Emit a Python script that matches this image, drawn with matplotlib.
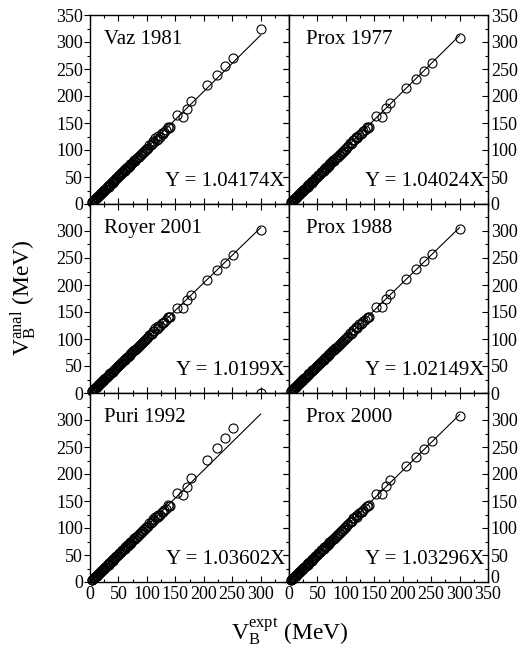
import numpy as np
import matplotlib
matplotlib.use('Agg')
import matplotlib.pyplot as plt
from matplotlib.ticker import MultipleLocator

plt.rcParams['font.family'] = 'Liberation Serif'
plt.rcParams['mathtext.fontset'] = 'custom'
plt.rcParams['mathtext.rm'] = 'Liberation Serif'
plt.rcParams['mathtext.it'] = 'Liberation Serif:italic'

# experimental barrier heights (MeV)
v_expt = [3.5, 5.0, 6.2, 7.5, 8.8, 10.1, 11.5, 13.0, 14.6, 16.0, 17.8, 19.5, 21.2, 23.0,
          25.1, 27.0, 29.3, 31.5, 33.8, 36.0, 38.4, 40.9, 43.5, 46.0, 48.6, 51.2, 54.0,
          56.8, 59.5, 62.3, 65.1, 68.0, 71.0, 74.2, 77.5, 80.6, 84.0, 87.5, 91.0, 94.5,
          98.0, 101.5, 104.0, 107.0, 110.0, 112.5, 115.0, 117.5, 120.0, 123.0, 126.0,
          129.5, 133.0, 137.0, 141.0, 153.0, 164.0, 171.0, 178.0, 206.0, 224.0, 237.0,
          251.0, 300.0,
          4.2, 9.5, 12.2, 15.3, 18.6, 22.1, 24.0, 28.1, 32.6, 35.0, 39.6, 42.2, 44.8, 47.3,
          50.0, 52.6, 55.4, 58.1, 61.0, 63.7, 66.5, 69.5, 72.6, 75.8, 79.0, 82.3, 85.8,
          89.2, 92.8, 96.2, 99.8, 108.5, 118.8, 127.8, 139.0]

vaz1981 = [3.8, 5.1, 6.6, 7.7, 9.3, 10.4, 12.1, 13.4, 15.3, 16.5, 18.7, 20.1, 22.3, 23.7,
           26.4, 27.9, 30.8, 32.6, 35.5, 37.2, 40.3, 42.3, 45.7, 47.6, 51.0, 53.0, 56.6,
           58.7, 62.4, 64.4, 68.2, 70.3, 74.3, 76.8, 81.0, 83.4, 87.9, 90.5, 95.1, 97.6,
           102.5, 104.2, 109.8, 109.5, 116.8, 114.0, 121.5, 119.0, 126.0, 124.5, 131.2,
           132.8, 136.5, 143.5, 142.5, 164, 162, 176, 191, 220, 238, 255, 271, 324,
           4.1, 9.2, 11.6, 15.0, 17.9, 21.8, 23.2, 28.0, 32.0, 35.2, 39.3, 42.6, 44.5, 47.9,
           50.0, 53.3, 55.6, 59.1, 61.4, 64.9, 67.0, 71.0, 73.4, 77.5, 80.1, 84.3, 87.2,
           91.5, 94.5, 98.8, 101.8, 111.5, 121.0, 130.5, 141.0]

prox1977 = [3.6, 5.3, 6.4, 7.9, 9.1, 10.6, 11.9, 13.6, 15.1, 16.7, 18.5, 20.3, 22.0, 24.0,
            26.1, 28.1, 30.5, 32.8, 35.1, 37.5, 39.9, 42.6, 45.2, 47.9, 50.5, 53.3, 56.1,
            59.1, 61.8, 64.9, 67.7, 70.8, 73.8, 77.2, 80.6, 83.8, 87.4, 91.0, 94.6, 98.3,
            101.8, 105.6, 107.0, 112.5, 113.8, 118.5, 118.9, 123.8, 124.0, 128.5, 130.0,
            134.8, 137.5, 141.8, 142.0, 163, 161, 177, 187, 215, 232, 246, 262, 308,
            4.2, 9.4, 11.8, 15.1, 18.1, 21.9, 23.5, 28.3, 32.2, 35.3, 39.5, 42.7, 44.8, 48.0,
            50.3, 53.4, 55.9, 59.2, 61.7, 65.0, 67.3, 71.1, 73.7, 77.6, 80.4, 84.4, 87.5,
            91.6, 94.8, 98.9, 102.2, 111.0, 121.8, 130.8, 140.5]

royer2001 = [3.6, 5.0, 6.4, 7.6, 9.0, 10.3, 11.8, 13.2, 15.0, 16.3, 18.2, 19.9, 21.7, 23.4,
             25.7, 27.5, 30.0, 32.1, 34.6, 36.7, 39.3, 41.6, 44.5, 46.8, 49.8, 52.1, 55.3,
             57.8, 60.9, 63.4, 66.6, 69.2, 72.7, 75.5, 79.3, 82.0, 86.0, 89.0, 93.1, 96.2,
             100.3, 103.2, 107.5, 108.6, 114.0, 114.2, 119.5, 119.3, 124.6, 125.0, 129.0,
             131.5, 134.5, 141.0, 140.5, 158, 157, 172, 181, 210, 227, 241, 256, 302,
             4.0, 9.3, 11.9, 15.2, 18.3, 22.1, 23.8, 28.3, 32.6, 35.4, 39.8, 42.8, 45.0, 48.0,
             50.4, 53.4, 55.9, 59.0, 61.6, 64.7, 67.2, 70.6, 73.4, 77.0, 79.9, 83.6, 86.8,
             90.6, 93.9, 97.8, 101.0, 109.5, 120.0, 129.0, 140.0]

prox1988 = [3.5, 5.2, 6.3, 7.7, 9.0, 10.4, 11.7, 13.4, 14.9, 16.4, 18.1, 20.0, 21.6, 23.6,
            25.6, 27.7, 29.9, 32.3, 34.5, 36.9, 39.2, 41.9, 44.4, 47.1, 49.6, 52.4, 55.1,
            58.1, 60.7, 63.8, 66.4, 69.6, 72.5, 75.9, 79.1, 82.5, 85.7, 89.5, 92.9, 96.7,
            100.0, 103.9, 105.5, 110.5, 111.8, 116.5, 116.9, 121.6, 121.9, 127.0, 127.8,
            132.8, 135.0, 139.5, 141.0, 160, 160, 175, 183, 212, 229, 244, 258, 303,
            4.1, 9.4, 12.0, 15.3, 18.4, 22.2, 23.9, 28.4, 32.7, 35.5, 39.9, 42.9, 45.1, 48.1,
            50.5, 53.5, 56.0, 59.1, 61.7, 64.8, 67.3, 70.7, 73.5, 77.1, 80.0, 83.7, 86.9,
            90.7, 94.0, 97.9, 101.1, 109.8, 120.3, 129.4, 140.5]

puri1992 = [3.7, 5.1, 6.5, 7.7, 9.2, 10.4, 12.0, 13.4, 15.2, 16.5, 18.6, 20.1, 22.1, 23.7,
            26.2, 27.9, 30.6, 32.5, 35.3, 37.1, 40.1, 42.2, 45.4, 47.5, 50.7, 52.8, 56.3,
            58.6, 62.0, 64.3, 67.8, 70.2, 73.9, 76.6, 80.6, 83.2, 87.4, 90.3, 94.6, 97.5,
            101.9, 104.5, 109.0, 109.3, 116.0, 114.2, 120.5, 119.5, 125.0, 124.8, 130.2,
            132.5, 136.0, 142.5, 141.0, 164, 161, 176, 193, 226, 248, 266, 286, np.nan,
            4.1, 9.2, 11.7, 15.0, 17.9, 21.8, 23.2, 28.0, 32.0, 35.1, 39.3, 42.5, 44.4, 47.8,
            49.9, 53.1, 55.5, 58.9, 61.2, 64.6, 66.8, 70.7, 73.1, 77.1, 79.7, 83.8, 86.8,
            91.0, 94.0, 98.3, 101.3, 110.9, 120.5, 130.0, 140.5]

prox2000 = [3.6, 5.2, 6.4, 7.8, 9.1, 10.5, 11.9, 13.5, 15.1, 16.6, 18.4, 20.2, 21.9, 23.8,
            25.9, 27.9, 30.3, 32.6, 34.9, 37.2, 39.7, 42.3, 44.9, 47.6, 50.2, 52.9, 55.8,
            58.7, 61.5, 64.4, 67.2, 70.3, 73.3, 76.7, 80.0, 83.3, 86.8, 90.4, 94.0, 97.6,
            101.2, 104.9, 106.5, 111.8, 113.0, 117.8, 118.2, 123.0, 123.5, 128.0, 129.3,
            134.0, 137.0, 141.5, 142.5, 163, 163, 178, 188, 215, 232, 247, 261, 307,
            4.2, 9.4, 11.8, 15.1, 18.1, 21.9, 23.4, 28.2, 32.1, 35.2, 39.4, 42.6, 44.6, 47.9,
            50.1, 53.2, 55.7, 59.0, 61.5, 64.8, 67.0, 70.9, 73.4, 77.4, 80.1, 84.1, 87.1,
            91.3, 94.4, 98.6, 101.7, 110.8, 121.0, 130.2, 141.0]

models = [vaz1981, prox1977, royer2001, prox1988, puri1992, prox2000]
names = ['Vaz 1981', 'Prox 1977', 'Royer 2001', 'Prox 1988', 'Puri 1992', 'Prox 2000']
slopes = [1.04174, 1.04024, 1.0199, 1.02149, 1.03602, 1.03296]
slope_txt = ['1.04174', '1.04024', '1.0199', '1.02149', '1.03602', '1.03296']

# Royer 2001 has one reaction with no value (drawn at zero)
royer_zero_x = [300.0]
royer_zero_y = [0.0]

fig = plt.figure(figsize=(5.2, 6.55), dpi=100)
W, H = 520, 655
x0, aw = 90, 199
y_top, ah = 15, 189

for i in range(6):
    r, c = divmod(i, 2)
    left = (x0 + c * aw) / W
    bottom = (H - (y_top + (r + 1) * ah)) / H
    ax = fig.add_axes([left, bottom, aw / W, ah / H])
    ax.set_xlim(0, 350)
    ax.set_ylim(0, 350)

    xl = np.array([0, 300])
    ax.plot(xl, slopes[i] * xl, 'k-', lw=0.8)
    ax.plot(v_expt, models[i], 'o', mfc='none', mec='k', ms=6.5, mew=0.8,
            clip_on=False, zorder=3)
    if i == 2:
        ax.plot(royer_zero_x, royer_zero_y, 'o', mfc='none', mec='k', ms=6.5, mew=0.8,
                clip_on=False, zorder=5)

    ax.text(0.07 if c == 0 else 0.085, 0.87, names[i], transform=ax.transAxes,
            fontsize=15, va='center', ha='left')
    ax.text(0.98, 0.12, 'Y = ' + slope_txt[i] + 'X', transform=ax.transAxes,
            fontsize=15, va='center', ha='right')

    for axis in (ax.xaxis, ax.yaxis):
        axis.set_major_locator(MultipleLocator(50))
        axis.set_minor_locator(MultipleLocator(25))
    ax.tick_params(axis='x', which='both', direction='in', top=True, bottom=True,
                   labelsize=13, pad=3)
    ax.tick_params(axis='y', which='both', direction='out', left=True, right=False,
                   labelsize=13, pad=1)
    ax.tick_params(which='major', length=4, width=0.8)
    ax.tick_params(which='minor', length=2.5, width=0.8)
    for s in ax.spines.values():
        s.set_linewidth(1.0)

    # right side ticks pointing inward
    sec = ax.secondary_yaxis('right')
    sec.yaxis.set_major_locator(MultipleLocator(50))
    sec.yaxis.set_minor_locator(MultipleLocator(25))
    sec.tick_params(which='both', direction='in', labelsize=13, pad=2)
    sec.tick_params(which='major', length=4, width=0.8)
    sec.tick_params(which='minor', length=2.5, width=0.8)

    yt = [0, 50, 100, 150, 200, 250, 300, 350]
    ylab = [str(v) for v in yt]
    if r > 0:
        ylab[-1] = ''
    ax.set_yticks(yt)
    sec.set_yticks(yt)
    if c == 0:
        ax.set_yticklabels(ylab)
        sec.set_yticklabels([])
    else:
        ax.set_yticklabels([])
        if r == 2:
            # lift the bottom "0" a little so it clears the "350" below
            ylab[0] = ''
            ax.annotate('0', xy=(1, 0), xycoords='axes fraction', xytext=(2, 2.5),
                        textcoords='offset points', ha='left', va='center', fontsize=13)
        sec.set_yticklabels(ylab)

    xt = [0, 50, 100, 150, 200, 250, 300, 350]
    ax.set_xticks(xt)
    if r == 2:
        xlab = [str(v) for v in xt]
        if c == 0:
            xlab[-1] = ''
        ax.set_xticklabels(xlab)
    else:
        ax.set_xticklabels([])

fig.text(0.045, 0.545, r'V$_{\mathregular{B}}^{\mathregular{anal}}$ (MeV)', rotation=90,
         fontsize=17, ha='center', va='center')
fig.text(0.558, 0.035, r'V$_{\mathregular{B}}^{\mathregular{expt}}$ (MeV)',
         fontsize=17, ha='center', va='center')

fig.savefig('out.png', dpi=100)
